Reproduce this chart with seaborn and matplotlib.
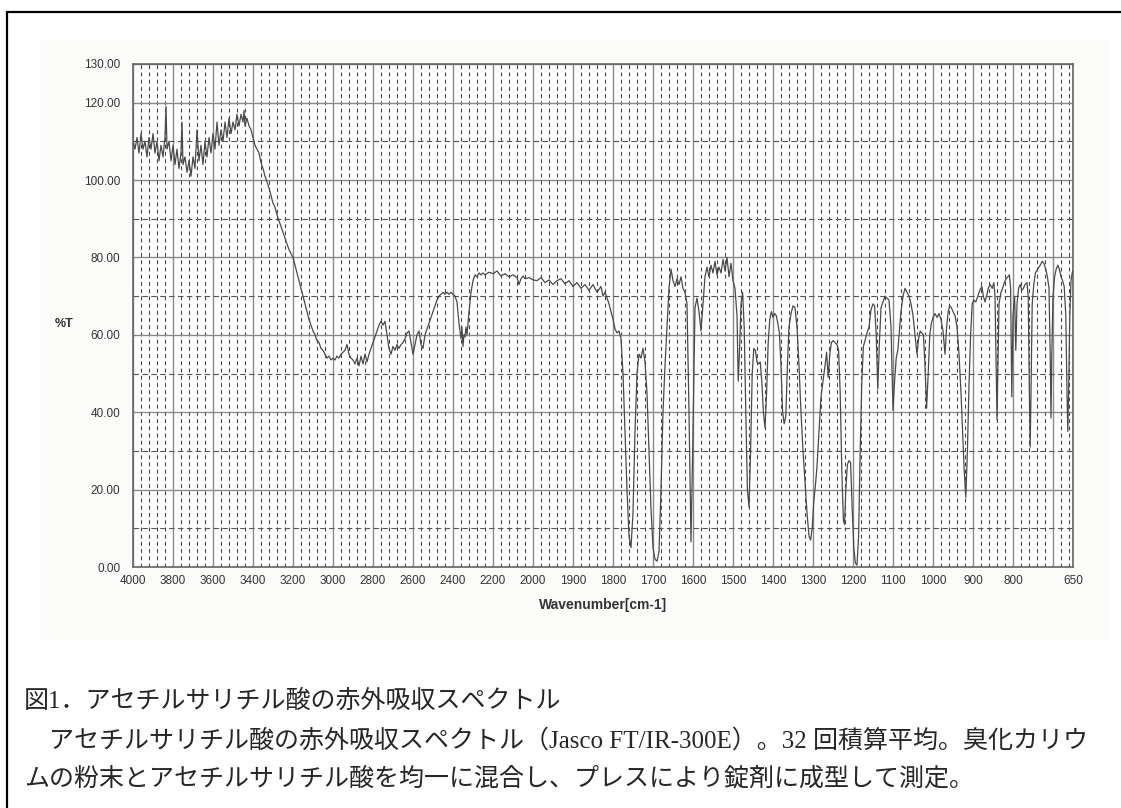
import matplotlib
matplotlib.use("Agg")
import matplotlib.pyplot as plt
from matplotlib.patches import Rectangle
import numpy as np
import pandas as pd
import seaborn as sns

# IR spectrum of acetylsalicylic acid
wn_noisy = [4000, 3990, 3980, 3970, 3960, 3950, 3940, 3930, 3920, 3910, 3900, 3890, 3880, 3870,
            3860, 3850, 3840, 3835, 3830, 3820, 3810, 3800, 3790, 3780, 3770, 3760, 3755, 3750,
            3740, 3730, 3720, 3710, 3700, 3690, 3680, 3670, 3660, 3650, 3640, 3630, 3620, 3610,
            3600, 3590, 3580, 3570, 3560, 3550, 3540, 3530, 3520, 3510, 3500, 3490, 3480, 3470,
            3460, 3450, 3445, 3440, 3430, 3420, 3410, 3400]
t_noisy = [110, 108, 111, 107, 112, 108, 110, 106, 111, 108, 112, 107, 110, 105,
           109, 106, 111, 119, 108, 110, 105, 109, 104, 108, 103, 107, 115, 104,
           106, 102, 105, 101, 106, 103, 113, 105, 109, 104, 110, 106, 111, 107,
           112, 108, 115, 109, 113, 110, 115, 111, 116, 112, 115, 113, 117, 114,
           117, 115, 118, 114, 116, 114, 113, 111]

wn_oh = [3390, 3380, 3370, 3360, 3350, 3340, 3330, 3320, 3310, 3300, 3290, 3280, 3270, 3260,
         3250, 3240, 3230, 3220, 3210, 3200, 3190, 3180, 3170, 3160, 3150, 3140, 3130, 3120,
         3110, 3100, 3090, 3080, 3070, 3060, 3050, 3040, 3030, 3020, 3010, 3000, 2990, 2980,
         2970, 2960, 2950, 2940, 2930, 2920, 2910, 2900, 2890, 2880, 2870, 2860, 2850, 2840,
         2830, 2820, 2810, 2800, 2790, 2780, 2770, 2760, 2750, 2740, 2730, 2720, 2710, 2700,
         2690, 2680, 2670, 2660, 2650, 2640, 2630, 2620, 2610, 2600, 2590, 2580, 2570, 2560,
         2550, 2540, 2530, 2520, 2510, 2500, 2490, 2480, 2470, 2460, 2450, 2440, 2430, 2420,
         2410, 2400, 2390, 2380, 2370, 2360, 2355, 2350, 2345, 2340, 2335, 2330, 2320, 2310,
         2300, 2290, 2280, 2270, 2260, 2250, 2240, 2220, 2200, 2180, 2160, 2140, 2120, 2100,
         2080, 2070, 2060, 2050, 2040, 2020, 2000]
t_oh = [109, 108, 107, 104.5, 103, 101, 99.5, 98, 96, 94, 93, 91, 89.5, 88,
        86.5, 85, 83.5, 82, 81, 80, 78, 76, 74, 72, 70, 68, 66, 64,
        62.5, 61, 60, 58.5, 58, 56.5, 56, 55, 54, 54.5, 53.5, 54, 53.5, 54.5,
        54, 55, 55.5, 56, 57.5, 55, 54, 53.5, 52.5, 54, 52, 54.5, 52.5, 55,
        53, 55, 56.5, 58, 59.5, 61, 62.5, 63.5, 62.5, 63.5, 60, 56.5, 55, 57,
        56, 57.5, 56.5, 57.5, 58, 59, 60.5, 61, 58, 55, 57.5, 60, 61, 57.5,
        56.5, 60, 61.5, 63, 64.5, 66, 67.5, 69, 70, 70.5, 71, 70.5, 71, 70.5,
        71, 70.5, 70, 68.5, 63, 59, 62, 57, 60, 59.5, 62, 60, 66, 71,
        74, 75.5, 75, 76, 75.5, 76, 75.5, 76.2, 75.8, 76.5, 75.2, 75.8, 75, 75.5,
        74.8, 73, 74.5, 75.2, 74.5, 74.8, 74.2]

wn_fp = [1990, 1980, 1970, 1960, 1950, 1940, 1930, 1920, 1910, 1900, 1890, 1880, 1870, 1860,
         1850, 1840, 1830, 1825, 1820, 1810, 1800, 1795, 1790, 1785, 1780, 1775, 1770, 1765,
         1760, 1755, 1750, 1745, 1740, 1735, 1730, 1725, 1720, 1715, 1710, 1705, 1700, 1695,
         1690, 1685, 1680, 1675, 1670, 1665, 1660, 1655, 1650, 1645, 1640, 1635, 1630, 1625,
         1620, 1615, 1610, 1605, 1600, 1595, 1590, 1585, 1580, 1575, 1570, 1565, 1560, 1555,
         1550, 1545, 1540, 1535, 1530, 1525, 1520, 1515, 1510, 1505, 1500, 1495, 1490, 1487,
         1484, 1480, 1476, 1472, 1468, 1464, 1460, 1456, 1452, 1448, 1444, 1440, 1436, 1432,
         1428, 1424, 1420, 1416, 1412, 1408, 1404, 1400, 1396, 1392, 1388, 1384, 1380, 1376,
         1372, 1368, 1364, 1360, 1355, 1350, 1345, 1340, 1335, 1330, 1325, 1320, 1315, 1310,
         1306, 1302, 1298, 1294, 1290, 1285, 1280, 1275, 1270, 1266, 1262, 1258, 1254, 1250,
         1245, 1240, 1236, 1232, 1228, 1224, 1221, 1218, 1214, 1210, 1206, 1202, 1198, 1194,
         1190, 1186, 1182, 1178, 1174, 1170, 1165, 1160, 1155, 1150, 1146, 1142, 1138, 1134,
         1130, 1125, 1120, 1115, 1110, 1105, 1100, 1096, 1092, 1088, 1084, 1080, 1075, 1070,
         1065, 1060, 1055, 1050, 1045, 1040, 1036, 1032, 1028, 1024, 1020, 1016, 1012, 1008,
         1004, 1000, 995, 990, 985, 980, 975, 970, 966, 962, 958, 954, 950, 945,
         940, 935, 930, 926, 922, 918, 914, 910, 906, 902, 898, 893, 888, 883,
         878, 874, 870, 866, 862, 857, 852, 848, 845, 842, 840, 838, 835, 830,
         826, 822, 817, 813, 809, 806, 803, 800, 796, 793, 790, 786, 782, 778,
         774, 770, 765, 762, 759, 757, 755, 752, 748, 744, 738, 732, 727, 723,
         718, 714, 710, 707, 705, 703, 700, 696, 692, 688, 684, 680, 676, 672,
         668, 665, 663, 661, 658, 655, 652, 650]
t_fp = [74, 74.8, 73.5, 74.2, 73, 74, 74.5, 73.2, 74, 72.5, 73.5, 72, 73, 71.5,
        73, 71, 72.5, 70, 71, 68, 64, 61.5, 60.5, 61, 59, 50, 35, 20,
        8, 5, 14, 35, 50, 55, 54, 56.5, 53, 45, 30, 15, 5, 2,
        1.5, 4, 20, 40, 52, 62, 72, 77, 74, 72.5, 74.5, 73, 75, 72,
        71, 68, 40, 6.5, 35, 67, 69.5, 66, 61, 68, 75, 77.5, 75, 78,
        76, 79, 75.5, 77.5, 76, 79.5, 76.5, 80, 75, 78.5, 74, 72, 65, 48,
        55, 68, 71, 62, 40, 20, 15.5, 30, 50, 56.5, 56, 53, 52.5, 53,
        48, 40, 36, 45, 58, 64, 66, 64.5, 65.5, 65, 63, 60.5, 52, 40,
        37, 39, 52, 62, 65.5, 67.5, 67, 62, 52, 40, 30, 22, 14, 8,
        7, 10, 17, 21, 26, 35, 44, 48, 52, 55.5, 49, 55, 58, 58.5,
        58, 57.5, 56, 45, 25, 12, 11, 20, 26.5, 27.5, 27, 15, 5, 1,
        0.5, 8, 30, 48, 57, 58.5, 60.5, 62, 66.5, 68, 67.5, 60, 46, 58,
        67, 68.5, 70, 69.5, 69, 62, 40.5, 48, 54, 56, 61, 66, 70, 72,
        71, 70, 68, 65, 60, 55, 59, 61, 60.5, 60, 52, 41, 50, 60,
        63, 64.5, 65.5, 64.5, 65.5, 64, 61, 55, 62, 66, 67.5, 67, 66, 65,
        62, 55, 45, 35, 25, 18, 30, 47, 60, 68, 69, 68.5, 70, 71.5,
        72.5, 70, 68.5, 70, 72, 73, 72, 73.5, 70, 50, 38, 50, 68, 71,
        72, 73.5, 74.5, 75, 75.5, 72, 44, 65, 70, 56, 68, 72, 73, 71.5,
        72, 73, 73.5, 70, 45, 31, 45, 68, 73, 76, 77, 78, 79, 78.5,
        77, 75, 72, 55, 38.5, 55, 70, 75, 77, 78, 77, 75, 74, 72.5,
        65, 45, 35, 45, 65, 74, 76, 76.5]

wavenumber = wn_noisy + wn_oh + wn_fp
transmittance = t_noisy + t_oh + t_fp

major_x = [4000, 3800, 3600, 3400, 3200, 3000, 2800, 2600, 2400, 2200, 2000,
           1900, 1800, 1700, 1600, 1500, 1400, 1300, 1200, 1100, 1000, 900, 800, 700, 650]
major_x_labels = ["4000", "3800", "3600", "3400", "3200", "3000", "2800", "2600", "2400",
                  "2200", "2000", "1900", "1800", "1700", "1600", "1500", "1400", "1300",
                  "1200", "1100", "1000", "900", "800", "", "650"]
major_y = [0, 20, 40, 60, 80, 100, 120, 130]
major_y_labels = ["0.00", "20.00", "40.00", "60.00", "80.00", "100.00", "120.00", "130.00"]
minor_y = [10, 30, 50, 70, 90, 110]

caption_title = "図1．アセチルサリチル酸の赤外吸収スペクトル"
caption_line2 = "　アセチルサリチル酸の赤外吸収スペクトル（Jasco FT/IR-300E）。32 回積算平均。臭化カリウ"
caption_line3 = "ムの粉末とアセチルサリチル酸を均一に混合し、プレスにより錠剤に成型して測定。"

df = pd.DataFrame({"wn": wavenumber, "T": transmittance})

sns.set_style("white")
plt.rcParams["font.family"] = ["Liberation Sans", "Noto Sans CJK JP"]


# below 2000 cm-1 the chart is drawn at twice the scale
def fwd(w):
    w = np.asarray(w, dtype=float)
    return np.where(w >= 2000, w, 2 * w - 2000)


def inv(u):
    u = np.asarray(u, dtype=float)
    return np.where(u >= 2000, u, (u + 2000) / 2)


W, H = 1121, 808
fig = plt.figure(figsize=(W / 100, H / 100), dpi=100)
fig.add_artist(Rectangle((40 / W, 1 - 640 / H), 1070 / W, 600 / H, transform=fig.transFigure,
                         facecolor="#fbfbfa", edgecolor="none", zorder=-5))
fig.add_artist(Rectangle((7 / W, -0.1), 1.2, 1.1 - 12 / H, transform=fig.transFigure,
                         fill=False, edgecolor="black", linewidth=1.6))

ax = fig.add_axes([133 / W, 1 - 567 / H, (1073 - 133) / W, (567 - 64) / H])
ax.set_facecolor("white")
sns.lineplot(data=df, x="wn", y="T", ax=ax, estimator=None, sort=False,
             color="#4a4a4a", linewidth=0.9, zorder=5)

ax.set_xscale("function", functions=(fwd, inv))
ax.set_xlim(4000, 650)
ax.set_ylim(0, 130)

minor_x = [v for v in range(3960, 2000, -40) if v % 200 != 0]
minor_x += [v for v in range(1980, 650, -20) if v % 100 != 0]
ax.set_xticks(major_x)
ax.set_xticklabels(major_x_labels)
ax.set_xticks(minor_x, minor=True)
ax.set_yticks(major_y)
ax.set_yticklabels(major_y_labels)
ax.set_yticks(minor_y, minor=True)

ax.grid(which="major", color="#8a8a8a", linewidth=1.0, linestyle="-")
ax.xaxis.grid(True, which="minor", color="#444444", linewidth=0.8, linestyle=(0, (3.5, 3)))
ax.yaxis.grid(True, which="minor", color="#555555", linewidth=0.8, linestyle=(0, (5, 3)))
ax.tick_params(which="both", length=0)
ax.tick_params(axis="x", pad=6, labelsize=8.5, labelcolor="#333333")
ax.tick_params(axis="y", pad=9, labelsize=8.5, labelcolor="#333333")
for s in ax.spines.values():
    s.set_color("#666666")
    s.set_linewidth(1.2)

ax.set_xlabel("Wavenumber[cm-1]", fontsize=10, fontweight="bold", color="#333333", labelpad=8)
ax.set_ylabel("")
fig.text(64 / W, 1 - 324 / H, "%T", fontsize=9, fontweight="bold", color="#333333",
         ha="center", va="center")

cap_font = ["Liberation Serif", "Noto Sans CJK JP"]
fig.text(24 / W, 1 - 701 / H, caption_title, fontsize=18, family=cap_font, va="center")
fig.text(24 / W, 1 - 741 / H, caption_line2, fontsize=18, family=cap_font, va="center")
fig.text(24 / W, 1 - 779 / H, caption_line3, fontsize=18, family=cap_font, va="center")

fig.savefig("out.png", dpi=100)
